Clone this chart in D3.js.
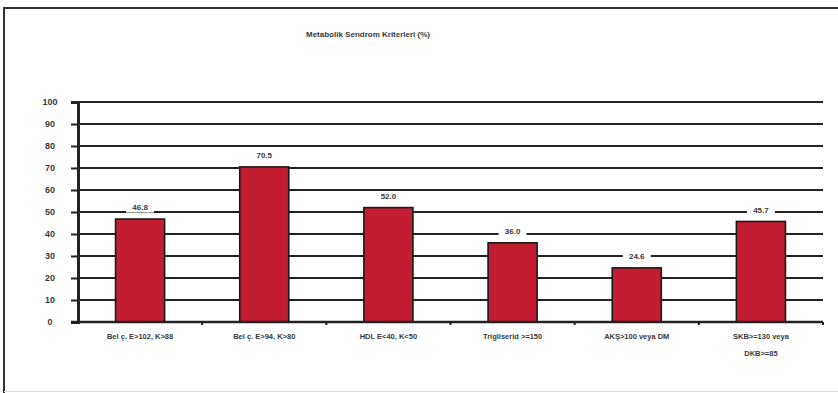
<!DOCTYPE html>
<html>
<head>
<meta charset="utf-8">
<script src="https://cdn.jsdelivr.net/npm/d3@7"></script>
<style>
  html, body { margin: 0; padding: 0; background: #fff; }
  svg { display: block; }
</style>
</head>
<body>
<svg id="chart" width="838" height="393"></svg>
<script>
// Metabolic syndrome criteria, share of patients (%)
const categories = [
  ["Bel ç. E>102, K>88"],
  ["Bel ç. E>94, K>80"],
  ["HDL E<40, K<50"],
  ["Trigliserid >=150"],
  ["AKŞ>100 veya DM"],
  ["SKB>=130 veya", "DKB>=85"]
];
const values = [46.8, 70.5, 52.0, 36.0, 24.6, 45.7];
const yTicks = [0, 10, 20, 30, 40, 50, 60, 70, 80, 90, 100];
const title = "Metabolik Sendrom Kriterleri (%)";

const svg = d3.select("#chart");
const font = "'Liberation Sans', Arial, sans-serif";
const textColor = "#3a3a3a";

// outer frame
svg.append("path")
  .attr("d", "M4,393 L4,8 L838,8")
  .attr("fill", "none").attr("stroke", "#333").attr("stroke-width", 2);
svg.append("line")
  .attr("x1", 4).attr("x2", 838).attr("y1", 391.5).attr("y2", 391.5)
  .attr("stroke", "#ddd").attr("stroke-width", 1);

const plot = { left: 78, right: 823, top: 102, bottom: 322 };

const x = d3.scaleBand()
  .domain(d3.range(categories.length))
  .range([plot.left, plot.right])
  .paddingInner(0.605).paddingOuter(0.3025);
const xOuter = d3.scaleBand()
  .domain(d3.range(categories.length))
  .range([plot.left, plot.right]);
const y = d3.scaleLinear().domain([0, 100]).range([plot.bottom, plot.top]);

// title
svg.append("text")
  .attr("x", 368).attr("y", 37)
  .attr("text-anchor", "middle")
  .attr("font-family", font).attr("font-size", 8).attr("font-weight", "bold")
  .attr("fill", textColor)
  .text(title);

// horizontal grid lines
svg.append("g")
  .selectAll("line")
  .data(yTicks.filter(t => t > 0))
  .join("line")
  .attr("x1", plot.left).attr("x2", plot.right)
  .attr("y1", d => y(d)).attr("y2", d => y(d))
  .attr("stroke", "#222").attr("stroke-width", 2);

// y axis
const yAxis = d3.axisLeft(y).tickValues(yTicks).tickSize(7).tickPadding(21)
  .tickFormat(d3.format("d"));
const gy = svg.append("g").attr("transform", `translate(${plot.left},0)`).call(yAxis);
gy.select(".domain").attr("stroke", "#222").attr("stroke-width", 3);
gy.selectAll(".tick line").attr("stroke", "#222").attr("stroke-width", 2);
gy.selectAll(".tick text")
  .attr("font-family", font).attr("font-size", 9).attr("font-weight", "bold")
  .attr("fill", textColor).attr("text-anchor", "middle");

// bars
svg.append("g")
  .selectAll("rect")
  .data(values)
  .join("rect")
  .attr("x", (d, i) => x(i))
  .attr("y", d => y(d))
  .attr("width", x.bandwidth())
  .attr("height", d => y(0) - y(d))
  .attr("fill", "#c21d31")
  .attr("stroke", "#1a1a1a").attr("stroke-width", 1.6);

// x axis baseline with category separators
svg.append("line")
  .attr("x1", plot.left - 7).attr("x2", plot.right)
  .attr("y1", y(0)).attr("y2", y(0))
  .attr("stroke", "#222").attr("stroke-width", 2.5);
svg.append("g")
  .selectAll("line")
  .data(d3.range(1, categories.length + 1))
  .join("line")
  .attr("x1", i => i < categories.length ? xOuter(i) : plot.right)
  .attr("x2", i => i < categories.length ? xOuter(i) : plot.right)
  .attr("y1", y(0)).attr("y2", y(0) + 3)
  .attr("stroke", "#222").attr("stroke-width", 2);

// value labels on a white backing
const lbl = svg.append("g")
  .selectAll("g")
  .data(values)
  .join("g")
  .attr("transform", (d, i) => `translate(${x(i) + x.bandwidth() / 2},${y(d) - 11.5})`);
lbl.append("rect")
  .attr("x", -14).attr("y", -5).attr("width", 28).attr("height", 10)
  .attr("fill", "#fff");
lbl.append("text")
  .attr("text-anchor", "middle").attr("dy", "0.35em")
  .attr("font-family", font).attr("font-size", 8).attr("font-weight", "bold")
  .attr("fill", textColor)
  .text(d => d3.format(".1f")(d));

// category labels
const cat = svg.append("g")
  .selectAll("text")
  .data(categories)
  .join("text")
  .attr("x", (d, i) => x(i) + x.bandwidth() / 2)
  .attr("y", 339)
  .attr("text-anchor", "middle")
  .attr("font-family", font).attr("font-size", 7.5).attr("font-weight", "bold")
  .attr("fill", textColor);
cat.selectAll("tspan")
  .data(d => d)
  .join("tspan")
  .attr("x", function () { return this.parentNode.getAttribute("x"); })
  .attr("dy", (d, j) => j === 0 ? 0 : 17)
  .text(d => d);
</script>
</body>
</html>
